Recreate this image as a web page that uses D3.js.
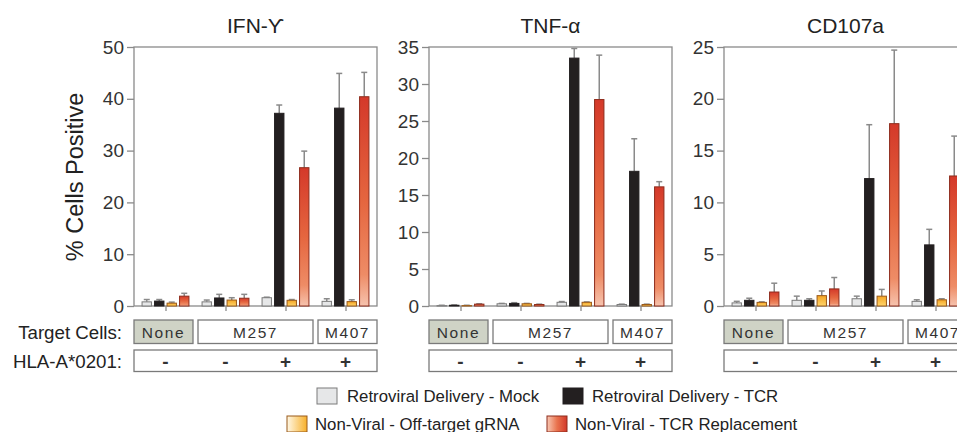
<!DOCTYPE html>
<html>
<head>
<meta charset="utf-8">
<script src="https://cdn.jsdelivr.net/npm/d3@7"></script>
<style>
  body { margin: 0; background: #fff; }
  svg { font-family: "Liberation Sans", Arial, sans-serif; display: block; }
</style>
</head>
<body>
<svg width="957" height="432"></svg>
<script>
const groups = ["None", "M257-", "M257+", "M407+"];
const series = ["Retroviral Delivery - Mock", "Retroviral Delivery - TCR", "Non-Viral - Off-target gRNA", "Non-Viral - TCR Replacement"];
const panelTitles = ["IFN-ϒ", "TNF-α", "CD107a"];
const panelMax = [50, 35, 25];
const panelStep = [10, 5, 5];

// mean values, one row per group, one column per series
const ifnMean = [[0.8, 0.95, 0.55, 1.9], [0.8, 1.55, 1.15, 1.5], [1.6, 37.2, 1.1, 26.7], [0.9, 38.2, 0.85, 40.4]];
const ifnErr = [[0.45, 0.3, 0.2, 0.55], [0.35, 0.7, 0.45, 0.75], [0.1, 1.6, 0.15, 3.2], [0.5, 6.7, 0.35, 4.7]];
const tnfMean = [[0.05, 0.1, 0.05, 0.25], [0.3, 0.35, 0.3, 0.2], [0.5, 33.5, 0.5, 27.9], [0.2, 18.2, 0.2, 16.1]];
const tnfErr = [[0.05, 0.05, 0.05, 0.05], [0.05, 0.1, 0.05, 0.05], [0.1, 1.3, 0.05, 6.0], [0.05, 4.4, 0.05, 0.7]];
const cdMean = [[0.3, 0.55, 0.35, 1.35], [0.55, 0.55, 1.0, 1.65], [0.7, 12.3, 0.95, 17.6], [0.45, 5.9, 0.6, 12.55]];
const cdErr = [[0.15, 0.2, 0.05, 0.85], [0.4, 0.15, 0.45, 1.1], [0.25, 5.2, 0.65, 7.1], [0.15, 1.5, 0.1, 3.85]];

const panelMeans = [ifnMean, tnfMean, cdMean];
const panelErrs = [ifnErr, tnfErr, cdErr];

const targetCells = [
  {label: "None", from: 0, to: 0, fill: "#cfd3c6"},
  {label: "M257", from: 1, to: 2, fill: "#fff"},
  {label: "M407", from: 3, to: 3, fill: "#fff"}
];
const hlaSigns = ["-", "-", "+", "+"];

const svg = d3.select("svg");
const defs = svg.append("defs");

function grad(id, stops, horizontal) {
  const g = defs.append("linearGradient").attr("id", id)
    .attr("x1", 0).attr("y1", 0)
    .attr("x2", horizontal ? 1 : 0).attr("y2", horizontal ? 0 : 1);
  stops.forEach(s => g.append("stop").attr("offset", s[0]).attr("stop-color", s[1]));
}
grad("offBar", [[0, "#f5a524"], [1, "#ffd56a"]]);
grad("repBar", [[0, "#d4392a"], [0.5, "#e5663f"], [0.85, "#ee8c66"], [1, "#f6c3ae"]]);
grad("offKey", [[0, "#fff8e6"], [1, "#f7b02a"]], true);
grad("repKey", [[0, "#f8c8b4"], [0.5, "#e9734e"], [1, "#d2382a"]], true);

const barFill = ["#e6e7e8", "#231f20", "url(#offBar)", "url(#repBar)"];
const barStroke = ["#7a7a7a", "#231f20", "#9a5a1a", "#8e2c1c"];
const keyFill = ["#e6e7e8", "#231f20", "url(#offKey)", "url(#repKey)"];

const panelLeft = [134, 429, 724];
const plotTop = 47, plotBottom = 306, pw = 243;

const x = d3.scalePoint().domain(groups).range([0, pw]).padding(0.525);
const xs = d3.scaleBand().domain(series).range([-25, 25]).paddingInner(0.25).paddingOuter(0.125);

panelTitles.forEach((title, p) => {
  const g = svg.append("g").attr("transform", `translate(${panelLeft[p]},0)`);
  const y = d3.scaleLinear().domain([0, panelMax[p]]).range([plotBottom, plotTop]);

  g.append("text")
    .attr("x", pw / 2).attr("y", 33)
    .attr("text-anchor", "middle")
    .attr("font-size", 21).attr("fill", "#222")
    .text(title);

  const yAxis = g.append("g")
    .call(d3.axisLeft(y).tickValues(d3.range(0, panelMax[p] + 0.1, panelStep[p])).tickSize(7).tickPadding(3));
  yAxis.select(".domain").remove();
  yAxis.selectAll("line").attr("stroke", "#8a8a8a").attr("stroke-width", 1.3);
  yAxis.selectAll("text").attr("font-size", 19).attr("fill", "#333");
  yAxis.attr("font-family", null);

  const xAxis = g.append("g").attr("transform", `translate(0,${plotBottom})`)
    .call(d3.axisBottom(x).tickSize(5).tickFormat(""));
  xAxis.select(".domain").remove();
  xAxis.selectAll("line").attr("stroke", "#8a8a8a").attr("stroke-width", 1.3);

  g.append("rect")
    .attr("x", 0).attr("y", plotTop)
    .attr("width", pw).attr("height", plotBottom - plotTop)
    .attr("fill", "none").attr("stroke", "#8a8a8a").attr("stroke-width", 1.3);

  const rows = groups.map((grp, i) => series.map((s, j) => ({
    grp, s, j, v: panelMeans[p][i][j], e: panelErrs[p][i][j]
  }))).flat();

  const bars = g.append("g").selectAll("g").data(rows).enter().append("g")
    .attr("transform", d => `translate(${x(d.grp) + xs(d.s)},0)`);

  bars.append("line")
    .attr("x1", xs.bandwidth() / 2).attr("x2", xs.bandwidth() / 2)
    .attr("y1", d => y(d.v)).attr("y2", d => y(d.v + d.e))
    .attr("stroke", "#8a8a8a").attr("stroke-width", 1.5);
  bars.append("line")
    .attr("x1", xs.bandwidth() / 2 - 3).attr("x2", xs.bandwidth() / 2 + 3)
    .attr("y1", d => y(d.v + d.e)).attr("y2", d => y(d.v + d.e))
    .attr("stroke", "#8a8a8a").attr("stroke-width", 1.5);

  bars.append("rect")
    .attr("x", 0).attr("width", xs.bandwidth())
    .attr("y", d => y(d.v)).attr("height", d => plotBottom - y(d.v))
    .attr("fill", d => barFill[d.j])
    .attr("stroke", d => barStroke[d.j]).attr("stroke-width", 1);

  // target cells row
  const step = x.step();
  const cells = g.append("g").selectAll("g").data(targetCells).enter().append("g");
  const cx0 = d => d.from === 0 ? 0 : x(groups[d.from]) - step / 2 + 2.5;
  const cx1 = d => d.to === groups.length - 1 ? pw : x(groups[d.to]) + step / 2 - 2.5;
  cells.append("rect")
    .attr("x", cx0).attr("y", 320)
    .attr("width", d => cx1(d) - cx0(d)).attr("height", 23.5)
    .attr("fill", d => d.fill).attr("stroke", "#7a7a7a").attr("stroke-width", 1.3);
  cells.append("text")
    .attr("x", d => (cx0(d) + cx1(d)) / 2).attr("y", 337.5)
    .attr("text-anchor", "middle")
    .attr("font-size", 15.5).attr("letter-spacing", 1.6).attr("fill", "#333")
    .text(d => d.label);

  g.append("rect")
    .attr("x", 0).attr("y", 350)
    .attr("width", pw).attr("height", 21.5)
    .attr("fill", "#fff").attr("stroke", "#7a7a7a").attr("stroke-width", 1.3);
  g.append("g").selectAll("text").data(groups).enter().append("text")
    .attr("x", d => x(d)).attr("y", 367.5)
    .attr("text-anchor", "middle")
    .attr("font-size", 19).attr("font-weight", "bold").attr("fill", "#333")
    .text((d, i) => hlaSigns[i]);
});

svg.append("text")
  .attr("transform", "translate(83,177) rotate(-90)")
  .attr("text-anchor", "middle")
  .attr("font-size", 23.5).attr("fill", "#222")
  .text("% Cells Positive");

svg.append("text")
  .attr("x", 122).attr("y", 338.5)
  .attr("text-anchor", "end").attr("font-size", 18.7).attr("fill", "#222")
  .text("Target Cells:");
svg.append("text")
  .attr("x", 122).attr("y", 367.5)
  .attr("text-anchor", "end").attr("font-size", 18.7).attr("fill", "#222")
  .text("HLA-A*0201:");

// legend, two rows
const keyPos = [
  {sx: 317, tx: 347, cy: 396},
  {sx: 563, tx: 592, cy: 396},
  {sx: 287, tx: 315, cy: 424},
  {sx: 547, tx: 575, cy: 424}
];
const key = svg.append("g").selectAll("g").data(series).enter().append("g");
key.append("rect")
  .attr("x", (d, i) => keyPos[i].sx).attr("y", (d, i) => keyPos[i].cy - 8)
  .attr("width", 20).attr("height", 16)
  .attr("fill", (d, i) => keyFill[i])
  .attr("stroke", (d, i) => barStroke[i]).attr("stroke-width", 1);
key.append("text")
  .attr("x", (d, i) => keyPos[i].tx).attr("y", (d, i) => keyPos[i].cy + 6)
  .attr("font-size", 16.8).attr("fill", "#222")
  .text(d => d);
</script>
</body>
</html>
